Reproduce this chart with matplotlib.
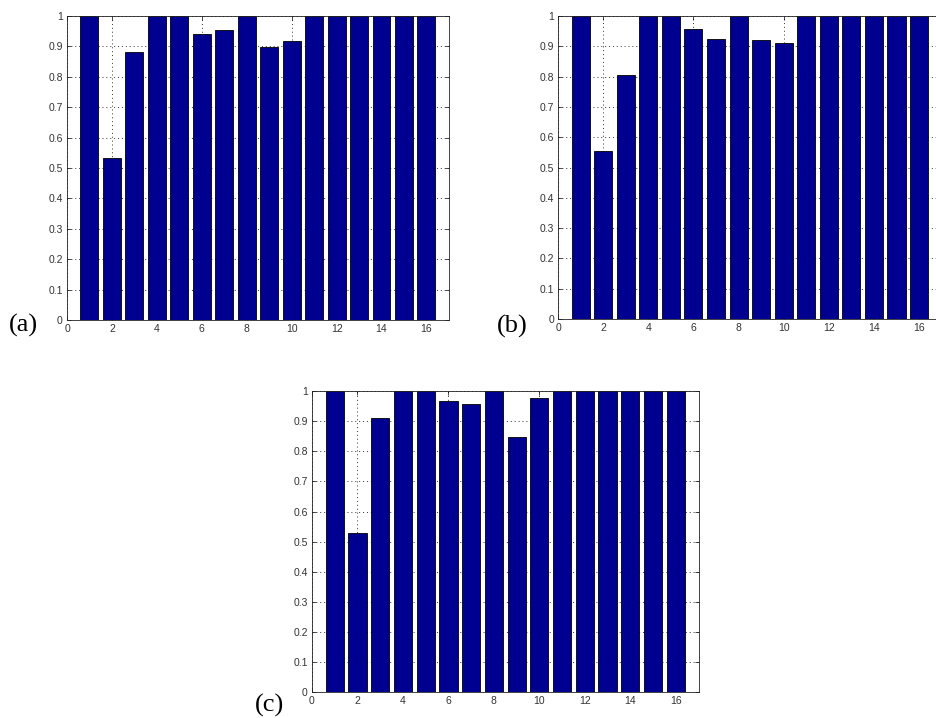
import numpy as np
import matplotlib.pyplot as plt
from matplotlib.ticker import FixedLocator

# 数据：三组柱状图（16个类别）
x_cats = np.arange(1, 17)
vals_a = [1.0, 0.534, 0.881, 1.0, 1.0, 0.941, 0.955, 1.0, 0.899, 0.918,
          1.0, 1.0, 1.0, 1.0, 1.0, 1.0]
vals_b = [1.0, 0.554, 0.805, 1.0, 1.0, 0.957, 0.925, 1.0, 0.922, 0.911,
          1.0, 1.0, 1.0, 1.0, 1.0, 1.0]
vals_c = [1.0, 0.527, 0.912, 1.0, 1.0, 0.966, 0.958, 1.0, 0.846, 0.976,
          1.0, 1.0, 1.0, 1.0, 1.0, 1.0]
panel_labels = ['(a)', '(b)', '(c)']
x_ticks = list(range(0, 17, 2))
y_ticks = [round(0.1 * i, 1) for i in range(11)]
y_ticklabels = ['0'] + ['%.1f' % v for v in y_ticks[1:-1]] + ['1']

fig = plt.figure(figsize=(9.36, 7.18), dpi=100)

# 各子图位置（figure坐标）
positions = [
    [0.0716, 0.5543, 0.408, 0.4234],
    [0.5962, 0.5557, 0.4098, 0.4220],
    [0.3333, 0.0362, 0.4130, 0.4190],
]
label_pos = [(0.010, 0.530), (0.531, 0.529), (0.272, 0.002)]

for pos, vals, lab, lp in zip(positions, [vals_a, vals_b, vals_c], panel_labels, label_pos):
    ax = fig.add_axes(pos)
    ax.set_axisbelow(True)
    ax.bar(x_cats, vals, width=0.8, color='#000090', edgecolor='black', linewidth=0.6)
    ax.set_xlim(0, 17)
    ax.set_ylim(0, 1)
    ax.xaxis.set_major_locator(FixedLocator(x_ticks))
    ax.set_yticks(y_ticks)
    ax.set_yticklabels(y_ticklabels)
    ax.grid(True, linestyle=(0, (1, 3)), color='#333333', linewidth=0.7)
    ax.tick_params(direction='in', length=3, width=0.5, top=True, right=True,
                   labelsize=7.5, labelcolor='#333333', pad=3)
    for lbl in ax.get_xticklabels() + ax.get_yticklabels():
        lbl.set_fontfamily('Liberation Sans')
    for sp in ax.spines.values():
        sp.set_linewidth(0.6)
        sp.set_color('#222222')
    fig.text(lp[0], lp[1], lab, fontsize=19, family='Liberation Serif', ha='left', va='bottom')

plt.savefig('out.png', dpi=100)
